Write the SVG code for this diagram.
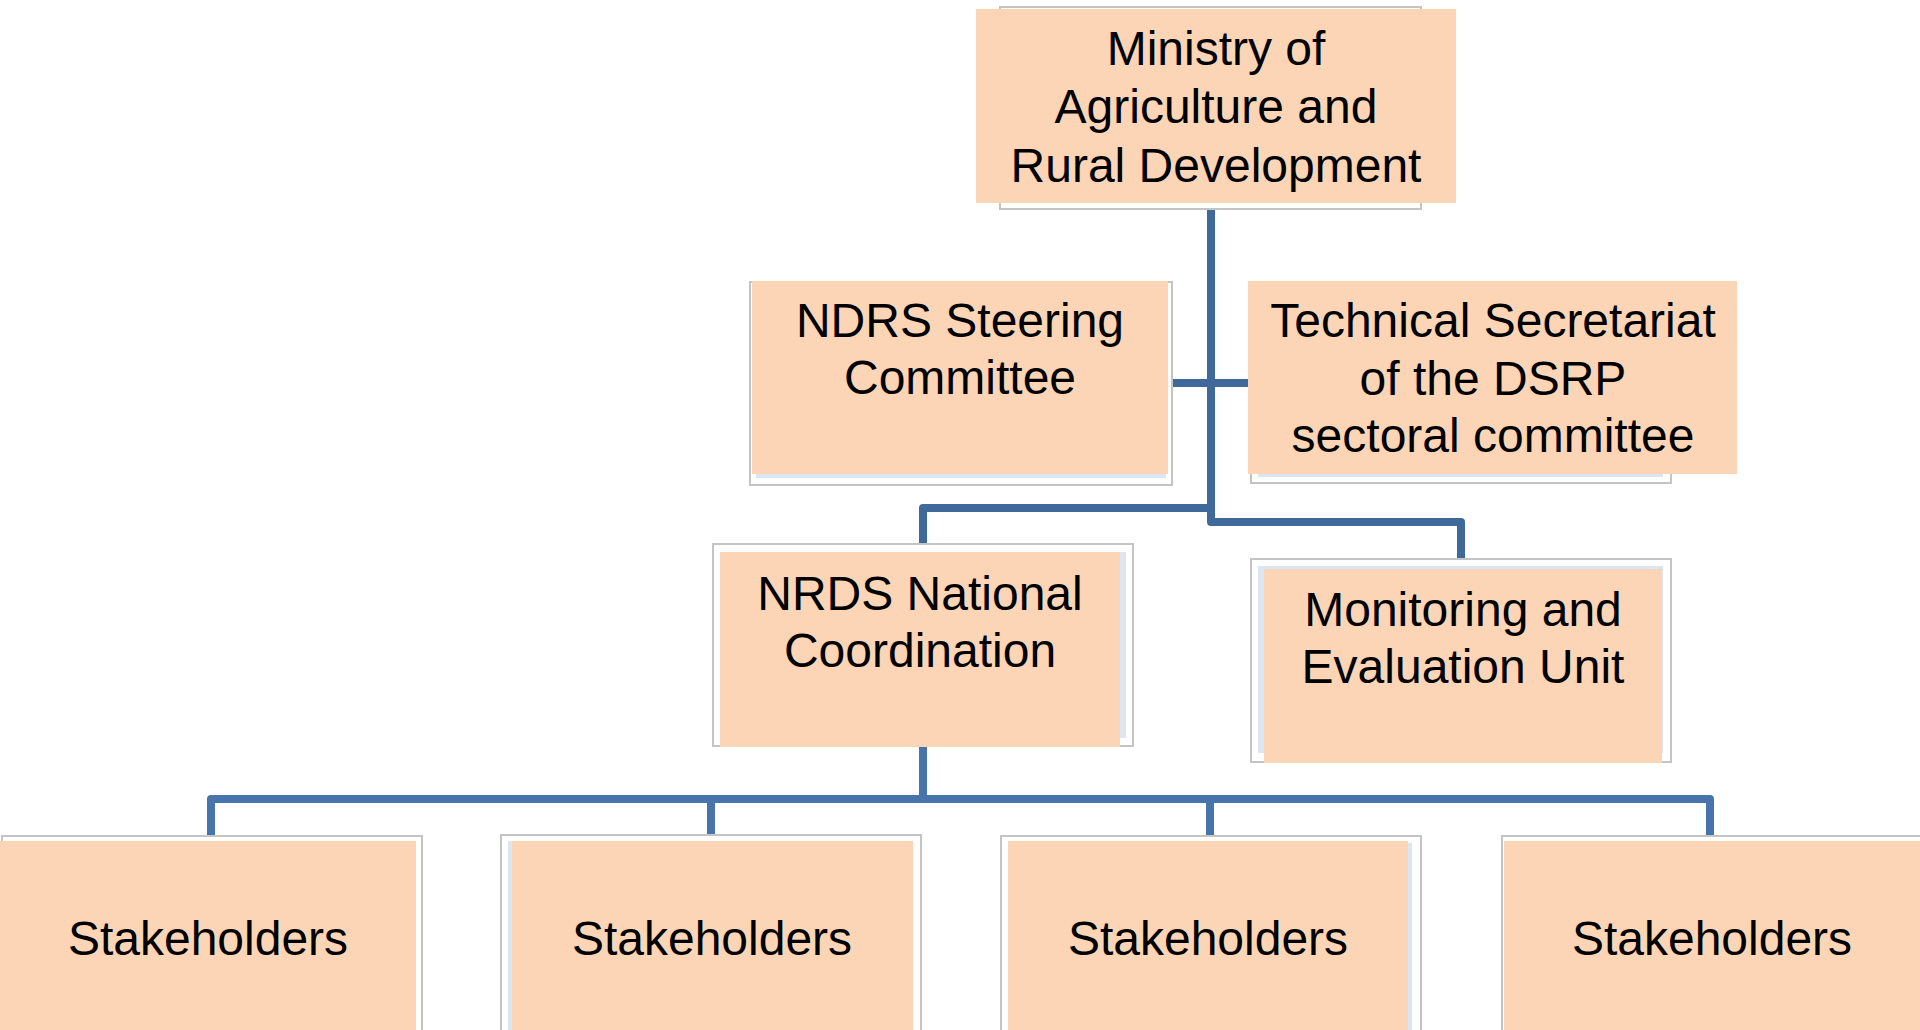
<svg xmlns="http://www.w3.org/2000/svg" width="1920" height="1030" viewBox="0 0 1920 1030">
<style>
.frame{fill:#ffffff;stroke:#c4c4c4;stroke-width:2}
.inner{fill:#dce6f2}
.box{fill:#fbd5b5}
.lbl{font-family:"Liberation Sans",Arial,sans-serif;font-size:48px;fill:#000000;text-anchor:middle}
.c1{fill:none;stroke:#3f699b;stroke-width:8;stroke-linejoin:round}
.c2{fill:none;stroke:#4674ab;stroke-width:8;stroke-linejoin:round}
</style>
<rect width="1920" height="1030" fill="#ffffff"/>
<g id="connectors">
<path class="c1" d="M1211 203 V522 H1461 V559"/>
<path class="c1" d="M1211 508 H923 V544"/>
<path class="c1" d="M1172 383 H1248"/>
<path class="c2" d="M923 747 V799"/>
<path class="c2" d="M211 836 V799 H1710 V836"/>
<path class="c2" d="M711 799 V836"/>
<path class="c2" d="M1210 799 V836"/>
</g>
<g id="ministry">
<rect class="frame" x="1000" y="7" width="421" height="202"/>
<rect class="box" x="976" y="9" width="480" height="194"/>
<text class="lbl" x="1216" y="65">Ministry of</text>
<text class="lbl" x="1216" y="123">Agriculture and</text>
<text class="lbl" x="1216" y="182">Rural Development</text>
</g>
<g id="steering">
<rect class="frame" x="750" y="282" width="422" height="203"/>
<rect class="inner" x="756" y="284" width="410" height="194"/>
<rect class="box" x="752" y="281" width="416" height="193"/>
<text class="lbl" x="960" y="337">NDRS Steering</text>
<text class="lbl" x="960" y="394">Committee</text>
</g>
<g id="technical">
<rect class="frame" x="1251" y="282" width="420" height="201"/>
<rect class="inner" x="1258" y="284" width="405" height="193"/>
<rect class="box" x="1248" y="281" width="489" height="193"/>
<text class="lbl" x="1493" y="337">Technical Secretariat</text>
<text class="lbl" x="1493" y="395">of the DSRP</text>
<text class="lbl" x="1493" y="452">sectoral committee</text>
</g>
<g id="coordination">
<rect class="frame" x="713" y="544" width="420" height="202"/>
<rect class="inner" x="720" y="552" width="406" height="186"/>
<rect class="box" x="720" y="552" width="400" height="195"/>
<text class="lbl" x="920" y="610">NRDS National</text>
<text class="lbl" x="920" y="667">Coordination</text>
</g>
<g id="monitoring">
<rect class="frame" x="1251" y="559" width="420" height="203"/>
<rect class="inner" x="1258" y="566" width="405" height="187"/>
<rect class="box" x="1264" y="569" width="398" height="194"/>
<text class="lbl" x="1463" y="626">Monitoring and</text>
<text class="lbl" x="1463" y="683">Evaluation Unit</text>
</g>
<g id="stakeholders1">
<rect class="frame" x="2" y="836" width="420" height="210"/>
<rect class="box" x="0" y="841" width="416" height="200"/>
<text class="lbl" x="208" y="955">Stakeholders</text>
</g>
<g id="stakeholders2">
<rect class="frame" x="501" y="835" width="420" height="210"/>
<rect class="inner" x="508" y="841" width="405" height="200"/>
<rect class="box" x="512" y="841" width="401" height="200"/>
<text class="lbl" x="712" y="955">Stakeholders</text>
</g>
<g id="stakeholders3">
<rect class="frame" x="1001" y="836" width="420" height="210"/>
<rect class="inner" x="1008" y="843" width="404" height="200"/>
<rect class="box" x="1008" y="841" width="400" height="200"/>
<text class="lbl" x="1208" y="955">Stakeholders</text>
</g>
<g id="stakeholders4">
<rect class="frame" x="1502" y="836" width="430" height="210"/>
<rect class="box" x="1504" y="841" width="420" height="200"/>
<text class="lbl" x="1712" y="955">Stakeholders</text>
</g>
</svg>
